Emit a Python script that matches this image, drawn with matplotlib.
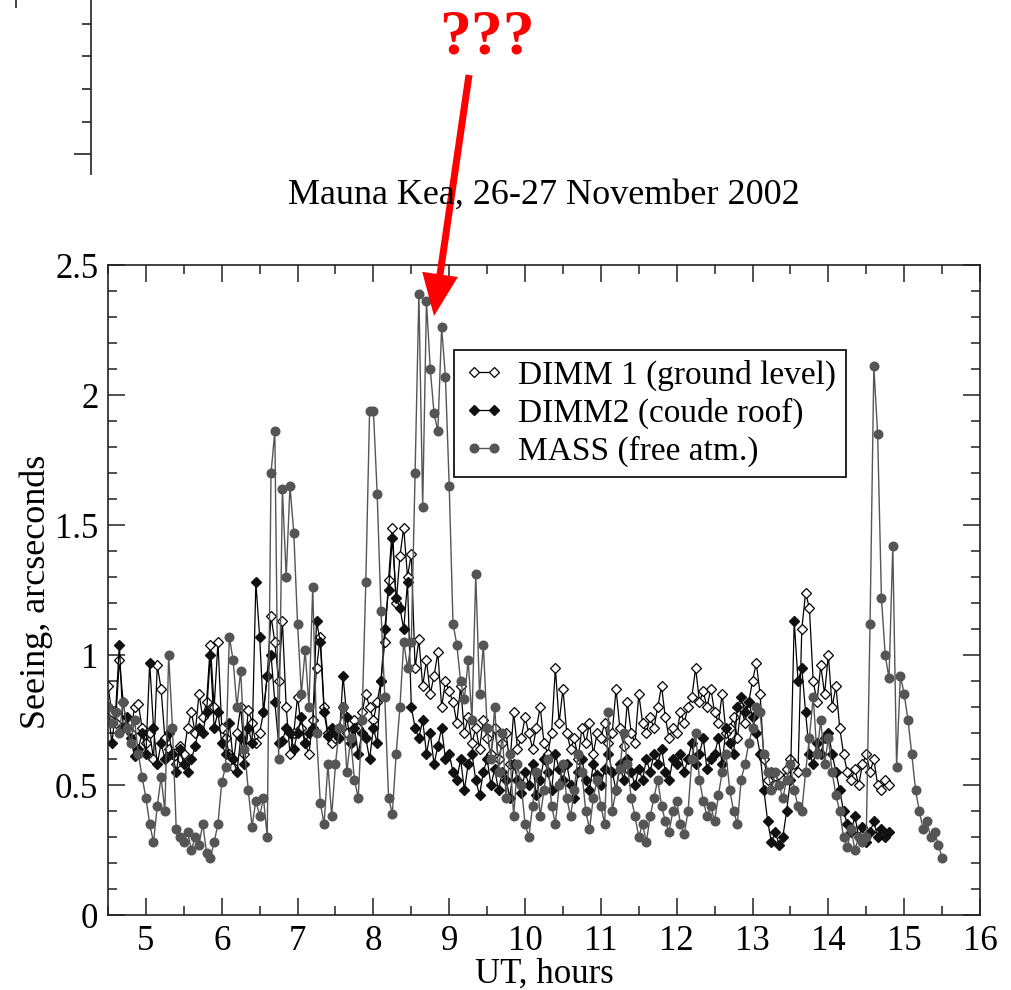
import numpy as np
import matplotlib
matplotlib.use("Agg")
import matplotlib.pyplot as plt
from matplotlib.lines import Line2D
from matplotlib.patches import FancyArrow
from matplotlib.ticker import MultipleLocator, FuncFormatter

plt.rcParams['font.family'] = ['Liberation Serif', 'DejaVu Serif']

# ---- seeing measurements, Mauna Kea 26-27 Nov 2002 (UT hours, arcsec) ----
DIMM_START, MASS_START, CADENCE = 4.50, 4.50, 0.05

dimm1 = [
    0.88, 0.78, 0.74, 0.98, 0.82, 0.72, 0.70, 0.80, 0.81, 0.72,
    0.66, 0.70, 0.60, 0.96, 0.87, 0.68, 0.64, 0.62, 0.58, 0.65,
    0.62, 0.72, 0.78, 0.70, 0.85, 0.76, 0.82, 1.04, 0.80, 1.05,
    0.72, 0.68, 0.62, 0.57, 0.70, 0.80, 0.62, 0.79, 0.74, 0.66,
    0.70, 0.78, 0.92, 1.15, 1.05, 0.90, 1.13, 0.80, 0.62, 0.70,
    0.84, 0.72, 0.66, 0.62, 0.75, 0.95, 1.07, 0.80, 0.70, 0.66,
    0.68, 0.72, 0.80, 0.70, 0.66, 0.75, 0.72, 0.78, 0.85, 0.80,
    0.75, 0.82, 0.90, 1.05, 1.29, 1.49, 1.20, 1.38, 1.49, 1.30,
    1.39, 0.95, 1.06, 0.88, 0.98, 0.85, 0.92, 1.01, 0.80, 0.90,
    0.86, 0.82, 0.74, 0.88, 0.70, 0.76, 0.66, 0.72, 0.64, 0.75,
    0.68, 0.62, 0.72, 0.60, 0.66, 0.70, 0.58, 0.78, 0.64, 0.68,
    0.76, 0.70, 0.64, 0.72, 0.80, 0.66, 0.62, 0.70, 0.95, 0.74,
    0.87, 0.70, 0.64, 0.68, 0.60, 0.72, 0.66, 0.74, 0.62, 0.70,
    0.68, 0.74, 0.66, 0.70, 0.87, 0.72, 0.65, 0.82, 0.70, 0.66,
    0.85, 0.74, 0.70, 0.76, 0.72, 0.80, 0.88, 0.76, 0.68, 0.72,
    0.70, 0.78, 0.74, 0.80, 0.84, 0.95, 0.82, 0.86, 0.80, 0.87,
    0.78, 0.74, 0.85, 0.70, 0.72, 0.76, 0.68, 0.80, 0.74, 0.82,
    0.90, 0.97, 0.85, 0.60, 0.52, 0.55, 0.50, 0.54, 0.52, 0.56,
    0.60, 0.58, 0.55, 1.10, 1.24, 1.18, 0.90, 0.82, 0.96, 0.85,
    1.00, 0.80, 0.88, 0.72, 0.62, 0.55, 0.52, 0.56, 0.50, 0.58,
    0.62, 0.55, 0.60, 0.50, 0.48, 0.52, 0.50,
]

dimm2 = [
    0.80, 0.66, 0.78, 1.04, 0.72, 0.76, 0.68, 0.61, 0.64, 0.70,
    0.62, 0.97, 0.72, 0.58, 0.66, 0.60, 0.70, 0.62, 0.55, 0.64,
    0.58, 0.55, 0.60, 0.65, 0.72, 0.70, 0.78, 1.00, 0.72, 0.78,
    0.66, 0.62, 0.74, 0.60, 0.55, 0.68, 0.58, 0.72, 0.66, 1.28,
    1.07, 0.78, 0.92, 1.00, 0.82, 0.66, 0.67, 0.72, 0.70, 0.64,
    0.70, 0.76, 0.66, 0.70, 0.72, 1.13, 1.05, 0.78, 0.69, 0.72,
    0.70, 0.68, 0.92, 0.76, 0.66, 0.72, 0.62, 0.70, 0.68, 0.60,
    0.72, 0.66, 0.90, 1.10, 1.25, 1.45, 1.22, 1.18, 1.10, 1.28,
    0.80, 0.72, 0.68, 0.75, 0.62, 0.70, 0.58, 0.65, 0.72, 0.60,
    0.62, 0.55, 0.52, 0.60, 0.48, 0.58, 0.62, 0.52, 0.46, 0.55,
    0.60, 0.50, 0.56, 0.48, 0.55, 0.52, 0.45, 0.58, 0.52, 0.47,
    0.55, 0.50, 0.58, 0.46, 0.52, 0.60, 0.55, 0.48, 0.62, 0.56,
    0.52, 0.58, 0.50, 0.45, 0.55, 0.60, 0.52, 0.48, 0.58, 0.54,
    0.50, 0.56, 0.62, 0.55, 0.48, 0.58, 0.52, 0.60, 0.55, 0.50,
    0.56, 0.52, 0.60, 0.55, 0.62, 0.58, 0.64, 0.55, 0.52, 0.60,
    0.58, 0.62, 0.55, 0.60, 0.66, 0.58, 0.62, 0.68, 0.56, 0.60,
    0.62, 0.68, 0.58, 0.72, 0.66, 0.62, 0.80, 0.84, 0.78, 0.82,
    0.76, 0.70, 0.62, 0.48, 0.36, 0.28, 0.32, 0.27, 0.30, 0.40,
    0.52, 1.13, 0.90, 0.95, 0.78, 0.62, 0.58, 0.66, 0.62, 0.68,
    0.70, 0.62, 0.55, 0.48, 0.40, 0.35, 0.32, 0.38, 0.30, 0.34,
    0.28, 0.32, 0.36, 0.30, 0.33, 0.30, 0.32,
]

mass = [
    0.80, 0.74, 0.78, 0.70, 0.82, 0.72, 0.66, 0.75, 0.62, 0.53,
    0.45, 0.35, 0.28, 0.42, 0.53, 0.40, 1.00, 0.72, 0.33, 0.30,
    0.28, 0.32, 0.25, 0.30, 0.27, 0.35, 0.24, 0.22, 0.28, 0.35,
    0.51, 0.57, 1.07, 0.98, 0.80, 0.94, 0.64, 0.48, 0.34, 0.44,
    0.38, 0.45, 0.30, 1.70, 1.86, 0.60, 1.64, 1.30, 1.65, 1.47,
    1.12, 0.85, 1.02, 0.80, 1.26, 0.70, 0.43, 0.35, 0.58, 0.38,
    0.58, 0.72, 0.80, 0.55, 0.68, 0.52, 0.45, 0.75, 1.28, 1.94,
    1.94, 1.62, 1.17, 0.84, 0.45, 0.39, 0.62, 0.80, 1.05, 0.95,
    1.05, 1.70, 2.39, 1.57, 2.36, 2.10, 1.93, 1.86, 2.26, 2.07,
    1.65, 1.12, 1.04, 0.90, 0.83, 0.98, 0.75, 1.31, 0.85, 1.04,
    0.72, 0.60, 0.80, 0.55, 0.70, 0.45, 0.62, 0.38, 0.58, 0.50,
    0.35, 0.30, 0.42, 0.55, 0.38, 0.48, 0.60, 0.42, 0.35, 0.50,
    0.58, 0.45, 0.38, 0.48, 0.62, 0.55, 0.40, 0.33, 0.45, 0.52,
    0.42, 0.35, 0.78, 0.40, 0.48, 0.56, 0.70, 0.58, 0.45, 0.38,
    0.30, 0.35, 0.28, 0.38, 0.45, 0.52, 0.42, 0.36, 0.32, 0.40,
    0.44, 0.35, 0.31, 0.40, 0.60, 0.70, 0.52, 0.44, 0.38, 0.42,
    0.36, 0.46, 0.55, 0.62, 0.48, 0.40, 0.35, 0.52, 0.58, 0.66,
    0.72, 0.80, 0.78, 0.62, 0.55, 0.48, 0.55, 0.50, 0.45, 0.52,
    0.58, 0.48, 0.42, 0.40, 0.55, 0.68, 0.84, 0.62, 0.75, 0.58,
    0.68, 0.55, 0.46, 0.40, 0.30, 0.26, 0.33, 0.25, 0.30, 0.28,
    0.30, 1.12, 2.11, 1.85, 1.22, 1.00, 0.91, 1.42, 0.57, 0.92,
    0.85, 0.75, 0.62, 0.48, 0.40, 0.33, 0.36, 0.30, 0.32, 0.27, 0.22,
]

labels = ["DIMM 1 (ground level)", "DIMM2 (coude roof)", "MASS (free atm.)"]
title = "Mauna Kea, 26-27 November 2002"
xlabel = "UT, hours"
ylabel = "Seeing, arcseconds"

t_dimm = DIMM_START + CADENCE * np.arange(len(dimm1))
t_mass = MASS_START + CADENCE * np.arange(len(mass))

W, H = 1011, 990
fig = plt.figure(figsize=(W / 100, H / 100), dpi=100)
ax = fig.add_axes([108 / W, 75 / H, 872 / W, 650 / H])

ax.plot(t_dimm, dimm1, '-', color='black', lw=0.9, marker='D', ms=5.5,
        mfc='white', mec='black', mew=0.9, label=labels[0])
ax.plot(t_dimm, dimm2, '-', color='black', lw=0.9, marker='D', ms=5.5,
        mfc='#111111', mec='#111111', label=labels[1])
ax.plot(t_mass, mass, '-', color='#555555', lw=1.0, marker='o', ms=6.2,
        mfc='#555555', mec='#555555', label=labels[2])

ax.set_xlim(4.5, 16)
ax.set_ylim(0, 2.5)
ax.xaxis.set_major_locator(MultipleLocator(1))
ax.xaxis.set_minor_locator(MultipleLocator(0.5))
ax.yaxis.set_major_locator(MultipleLocator(0.5))
ax.yaxis.set_minor_locator(MultipleLocator(0.1))
fmt = FuncFormatter(lambda v, p: f"{v:g}")
ax.xaxis.set_major_formatter(fmt)
ax.yaxis.set_major_formatter(fmt)
ax.tick_params(which='both', direction='in', top=True, right=True,
               width=1.1, color='#222222', labelsize=25)
ax.tick_params(which='major', length=12, pad=7)
ax.tick_params(which='minor', length=6.5)
for s in ax.spines.values():
    s.set_linewidth(1.2)
    s.set_color('#222222')

leg = ax.legend(loc='upper left', bbox_to_anchor=(0.397, 0.869),
                numpoints=2, handlelength=1.2, handletextpad=0.4,
                borderpad=0.3, labelspacing=0.2, fontsize=24,
                fancybox=False, edgecolor='black', framealpha=1,
                borderaxespad=0)
leg.get_frame().set_linewidth(1.2)

fig.text(544 / W, 1 - 195 / H, title, ha='center', va='center', fontsize=26)
fig.text(544 / W, 1 - 983 / H, xlabel, ha='center', va='baseline', fontsize=25)
fig.text(36 / W, 1 - 592 / H, ylabel, ha='center', va='center',
         rotation=90, fontsize=26)

# question marks and arrow pointing at the MASS burst
fig.text(487 / W, 1 - 38 / H, "???", color='red', fontweight='bold',
         fontsize=46, ha='center', va='center')
fig.add_artist(FancyArrow(469 / 100, (H - 75) / 100, -35 / 100, -241 / 100,
                          width=0.07, head_width=0.36, head_length=0.42,
                          length_includes_head=True, color='red', lw=0,
                          transform=fig.dpi_scale_trans))


# fragment of the panel above
def px_line(xs, ys, lw=1.2):
    fig.add_artist(Line2D([x / 100 for x in xs], [(H - y) / 100 for y in ys],
                          transform=fig.dpi_scale_trans, color='#222222',
                          lw=lw, solid_capstyle='butt'))


px_line([91, 91], [0, 175])
for yy in (24, 56, 89, 122):
    px_line([82, 91], [yy, yy])
px_line([74, 91], [154, 154])
px_line([16, 16], [0, 8])

fig.savefig("out.png", dpi=100)
